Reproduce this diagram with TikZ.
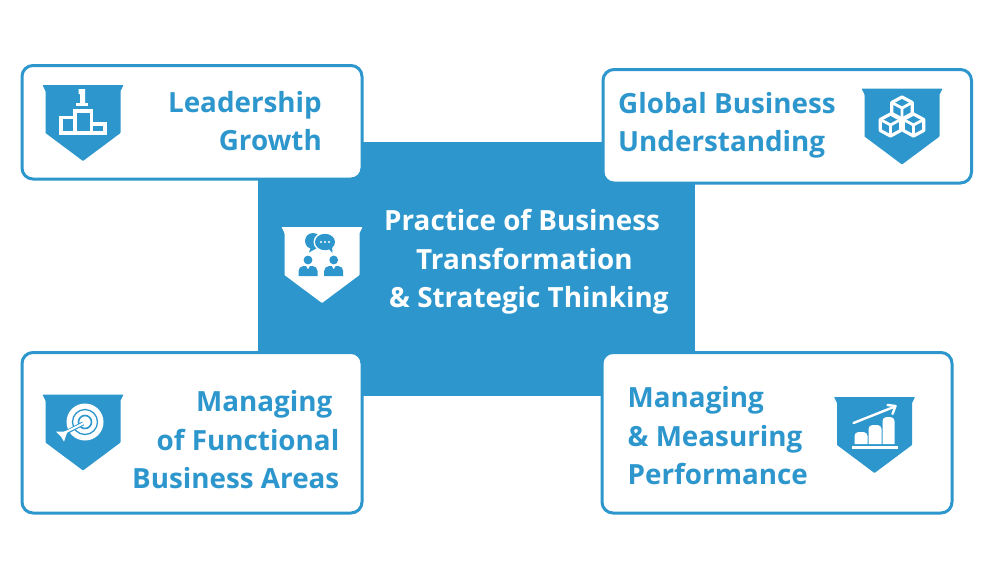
\documentclass[tikz,border=0pt]{standalone}
\usepackage{fontspec}
\setmainfont{Open Sans}[BoldFont={Open Sans Bold}]
\definecolor{brand}{HTML}{2D97CD}
\newcommand{\shieldat}[3]{%
  \begin{scope}[shift={(#1,#2)}]
    \fill[#3,rounded corners=0.6pt] (-40.5,0) -- (40.5,0) -- (37.5,6) -- (37.5,48) -- (0,76) -- (-37.5,48) -- (-37.5,6) -- cycle;
  \end{scope}}
\newcommand{\isocube}[3]{%
  \begin{scope}[shift={(#1,#2)}]
    \draw[#3,line width=3.2pt,line join=round] (0,-11) -- (10.2,-5.5) -- (10.2,5.5) -- (0,11) -- (-10.2,5.5) -- (-10.2,-5.5) -- cycle;
    \draw[#3,line width=2.8pt,line join=round] (-10.2,-5.5) -- (0,0) -- (10.2,-5.5) (0,0) -- (0,11);
  \end{scope}}
\tikzset{
  cardbox/.style={draw=brand,line width=3pt,fill=white,rounded corners=11pt,inner sep=0pt},
  cardtext/.style={font=\fontsize{27.8}{38.5}\selectfont\bfseries,text=brand,inner sep=0pt},
  whiteline/.style={draw=white,line width=3.4pt,line join=miter},
}
\begin{document}
\begin{tikzpicture}[x=1pt,y=-1pt]
\useasboundingbox (0,0) rectangle (1000,563);
\fill[white] (0,0) rectangle (1000,563);
\path[fill=brand] (258,142) rectangle (695,396);
% cards
\draw[cardbox] (22,65.5) rectangle (362,179);
\draw[cardbox] (603,69.5) rectangle (971.5,183);
\draw[cardbox] (22,352.5) rectangle (362,513);
\draw[cardbox] (602,352.5) rectangle (952,513);
% texts
\node[cardtext,anchor=east,align=right] (t1) at (322,121) {Leadership\\Growth};
\node[cardtext,anchor=west,align=left] (t2) at (618,125.5) {Global Business\\Understanding};
\node[cardtext,anchor=east,align=right] (t3) at (339.5,440) {Managing\kern7pt\\of Functional\\Business Areas};
\node[cardtext,anchor=west,align=left] (t4) at (627.5,436) {Managing\\\& Measuring\\Performance};
\node[cardtext,text=white,anchor=west,align=left] (t0) at (384,262) {Practice of Business\\\hspace*{32pt}Transformation\\\hspace*{5pt}\& Strategic Thinking};
% shields
\shieldat{83}{85}{brand}
\shieldat{902}{88.5}{brand}
\shieldat{83}{394.5}{brand}
\shieldat{874.5}{397}{brand}
\shieldat{322}{227}{white}
% podium icon
\draw[whiteline] (75,133) -- (61,133) -- (61,117.5) -- (75,117.5);
\draw[whiteline] (75,133) -- (75,111) -- (91.5,111) -- (91.5,133) -- cycle;
\draw[whiteline] (91.5,124) -- (105,124) -- (105,133) -- (91.5,133);
\fill[white] (75.5,103) -- (88,103) -- (88,106) -- (75.5,106) -- cycle;
\fill[white] (78.5,89) -- (85,89) -- (85,103) -- (80,103) -- (80,94) -- (78.5,94) -- cycle;
% cubes
\isocube{902}{108}{white}
\isocube{890.5}{125}{white}
\isocube{913.5}{125}{white}
% target icon
\begin{scope}[shift={(83,394.5)}]
  \fill[white] (2,27.5) circle (18.5);
  \draw[brand,line width=1.3pt] (2,27.5) circle (12.5);
  \draw[brand,line width=1.6pt] (2,27.5) circle (6.5);
  \draw[brand,line width=4pt] (-17,38) -- (0,29);
  \draw[white,line width=2pt] (-20,39) -- (0,29);
  \fill[white] (-27,37) -- (-19,37) -- (-15,36) -- (-17,41) -- (-19,47) -- (-22,42) -- cycle;
\end{scope}
% bar chart icon
\begin{scope}[shift={(874.5,397)}]
  \fill[white] (-20,47) -- (-20,39) arc (180:270:4) -- (-11,35) arc (270:360:4) -- (-7,47) -- cycle;
  \fill[white] (-6,47) -- (-6,32) arc (180:270:4) -- (3,28) arc (270:360:4) -- (7,47) -- cycle;
  \fill[white] (8,47) -- (8,24) arc (180:270:4) -- (16,20) arc (270:360:4) -- (20,47) -- cycle;
  \draw[white,line width=2.5pt] (-22.5,50.5) -- (23.5,50.5);
  \draw[white,line width=2.4pt,line cap=round] (-21,26) -- (20.5,9.5);
  \draw[white,line width=2.4pt,line cap=round,line join=round] (13,8) -- (21,9) -- (18,17);
\end{scope}
% people icon
\begin{scope}[shift={(322,227)}]
  \fill[brand] (-9,14) ellipse (8 and 8);
  \fill[brand] (-11,20) -- (-13,25.5) -- (-5,21) -- cycle;
  \fill[white] (3,15) ellipse (11.5 and 9.8);
  \fill[brand] (3,15) ellipse (10 and 8.2);
  \fill[brand] (6,21) -- (10.5,26) -- (10,19) -- cycle;
  \foreach \d in {-1,3,7}{\fill[white] (\d,15) circle (1.2);}
  \fill[brand] (-14,33) circle (4.4);
  \fill[brand] (11.7,33) circle (4.4);
  \foreach \c in {-14,11.7}{
    \fill[brand] (\c-9.5,49) -- (\c-9.5,44) arc (180:270:5) -- (\c-2,39) -- (\c,42.5) -- (\c+2,39) -- (\c+4.5,39) arc (270:360:5) -- (\c+9.5,49) -- cycle;
  }
\end{scope}
\end{tikzpicture}
\end{document}
